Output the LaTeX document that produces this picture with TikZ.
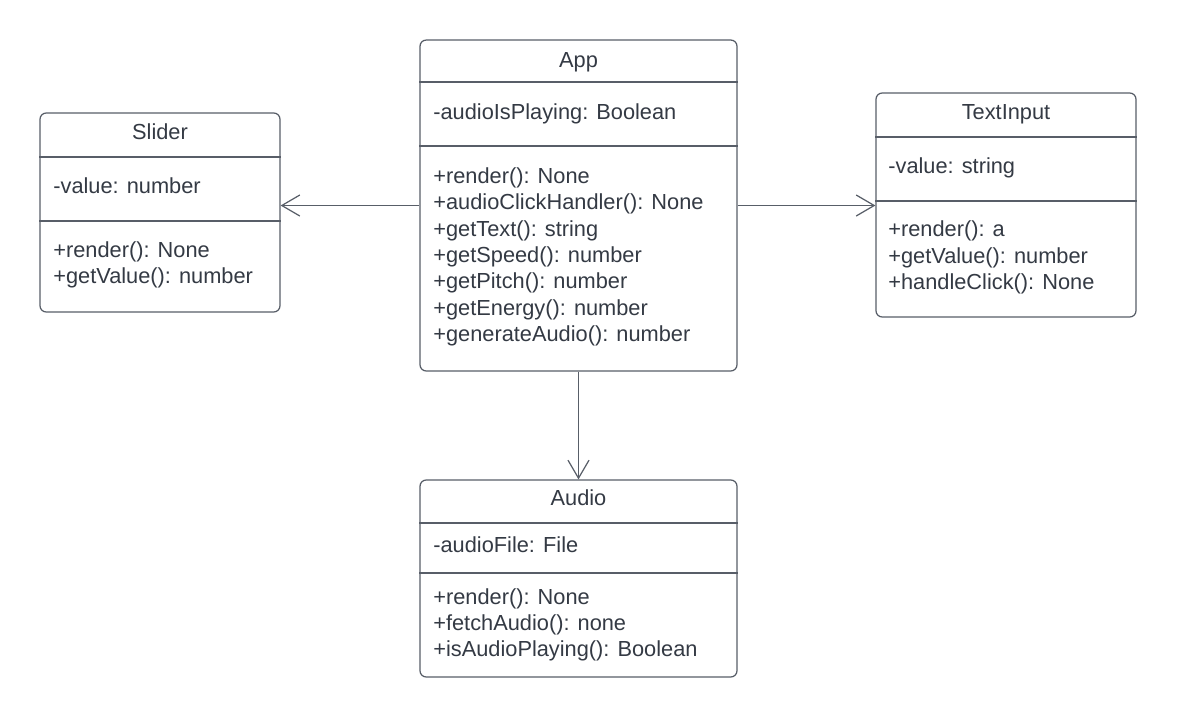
\documentclass[tikz,border=0pt]{standalone}
\usepackage{fontspec}
\setmainfont{Liberation Sans}
\usepackage{tikz}
\usetikzlibrary{arrows.meta, positioning}
\definecolor{umlline}{RGB}{88,94,104}
\definecolor{umltext}{RGB}{52,58,68}
\tikzset{
  classbox/.style={rectangle, draw=umlline, fill=white, rounded corners=3.5pt,
    line width=0.7pt, inner sep=0pt},
  sepline/.style={draw=umlline, line width=0.7pt},
  ctitle/.style={anchor=base, inner sep=0pt, text=umltext,
    font=\fontsize{12.4}{15}\selectfont},
  % base of a multi-line node is its last line
  members/.style={anchor=base west, inner sep=0pt, align=left, text=umltext,
    font=\fontsize{12.4}{15}\selectfont},
  assoc/.style={-{Straight Barb[length=0.36cm, width=0.42cm]}, draw=umlline,
    line width=0.7pt}
}

\begin{document}
\begin{tikzpicture}[x=0.02cm, y=-0.02cm]
  \useasboundingbox (0,0) rectangle (1177,718);

  % App
  \node[classbox, minimum width=6.34cm, minimum height=6.62cm] (app) at (578.5,205.5) {};
  \draw[sepline] (app.west |- 0,82) -- (app.east |- 0,82);
  \draw[sepline] (app.west |- 0,146) -- (app.east |- 0,146);
  \node[ctitle] (apptitle) at (578.5,67) {App};
  \node[members] (appattr) at (433,119.5) {-audioIsPlaying: Boolean};
  \node[members] (appops) at (433,341.5) {+render(): None\\+audioClickHandler(): None\\+getText(): string\\+getSpeed(): number\\+getPitch(): number\\+getEnergy(): number\\+generateAudio(): number};

  % Slider
  \node[classbox, minimum width=4.8cm, minimum height=3.98cm] (slider) at (160,212.5) {};
  \draw[sepline] (slider.west |- 0,157) -- (slider.east |- 0,157);
  \draw[sepline] (slider.west |- 0,221) -- (slider.east |- 0,221);
  \node[ctitle] (slidertitle) at (160,139.3) {Slider};
  \node[members] (sliderattr) at (53,193.3) {-value: number};
  \node[members] (sliderops) at (53,283.5) {+render(): None\\+getValue(): number};

  % TextInput
  \node[classbox, minimum width=5.2cm, minimum height=4.48cm] (textinput) at (1006,205) {};
  \draw[sepline] (textinput.west |- 0,137) -- (textinput.east |- 0,137);
  \draw[sepline] (textinput.west |- 0,201) -- (textinput.east |- 0,201);
  \node[ctitle] (textinputtitle) at (1006,119.3) {TextInput};
  \node[members] (textinputattr) at (888,173.3) {-value: string};
  \node[members] (textinputops) at (888,289.5) {+render(): a\\+getValue(): number\\+handleClick(): None};

  % Audio
  \node[classbox, minimum width=6.34cm, minimum height=3.94cm] (audio) at (578.5,578.5) {};
  \draw[sepline] (audio.west |- 0,523) -- (audio.east |- 0,523);
  \draw[sepline] (audio.west |- 0,573) -- (audio.east |- 0,573);
  \node[ctitle] (audiotitle) at (578.5,505.7) {Audio};
  \node[members] (audioattr) at (433,552.7) {-audioFile: File};
  \node[members] (audioops) at (433,656.8) {+render(): None\\+fetchAudio(): none\\+isAudioPlaying(): Boolean};

  % Associations
  \draw[assoc] (app.west) -- (app.west -| slider.east);
  \draw[assoc] (app.east) -- (app.east -| textinput.west);
  \draw[assoc] (app.south) -- (audio.north);
\end{tikzpicture}
\end{document}
